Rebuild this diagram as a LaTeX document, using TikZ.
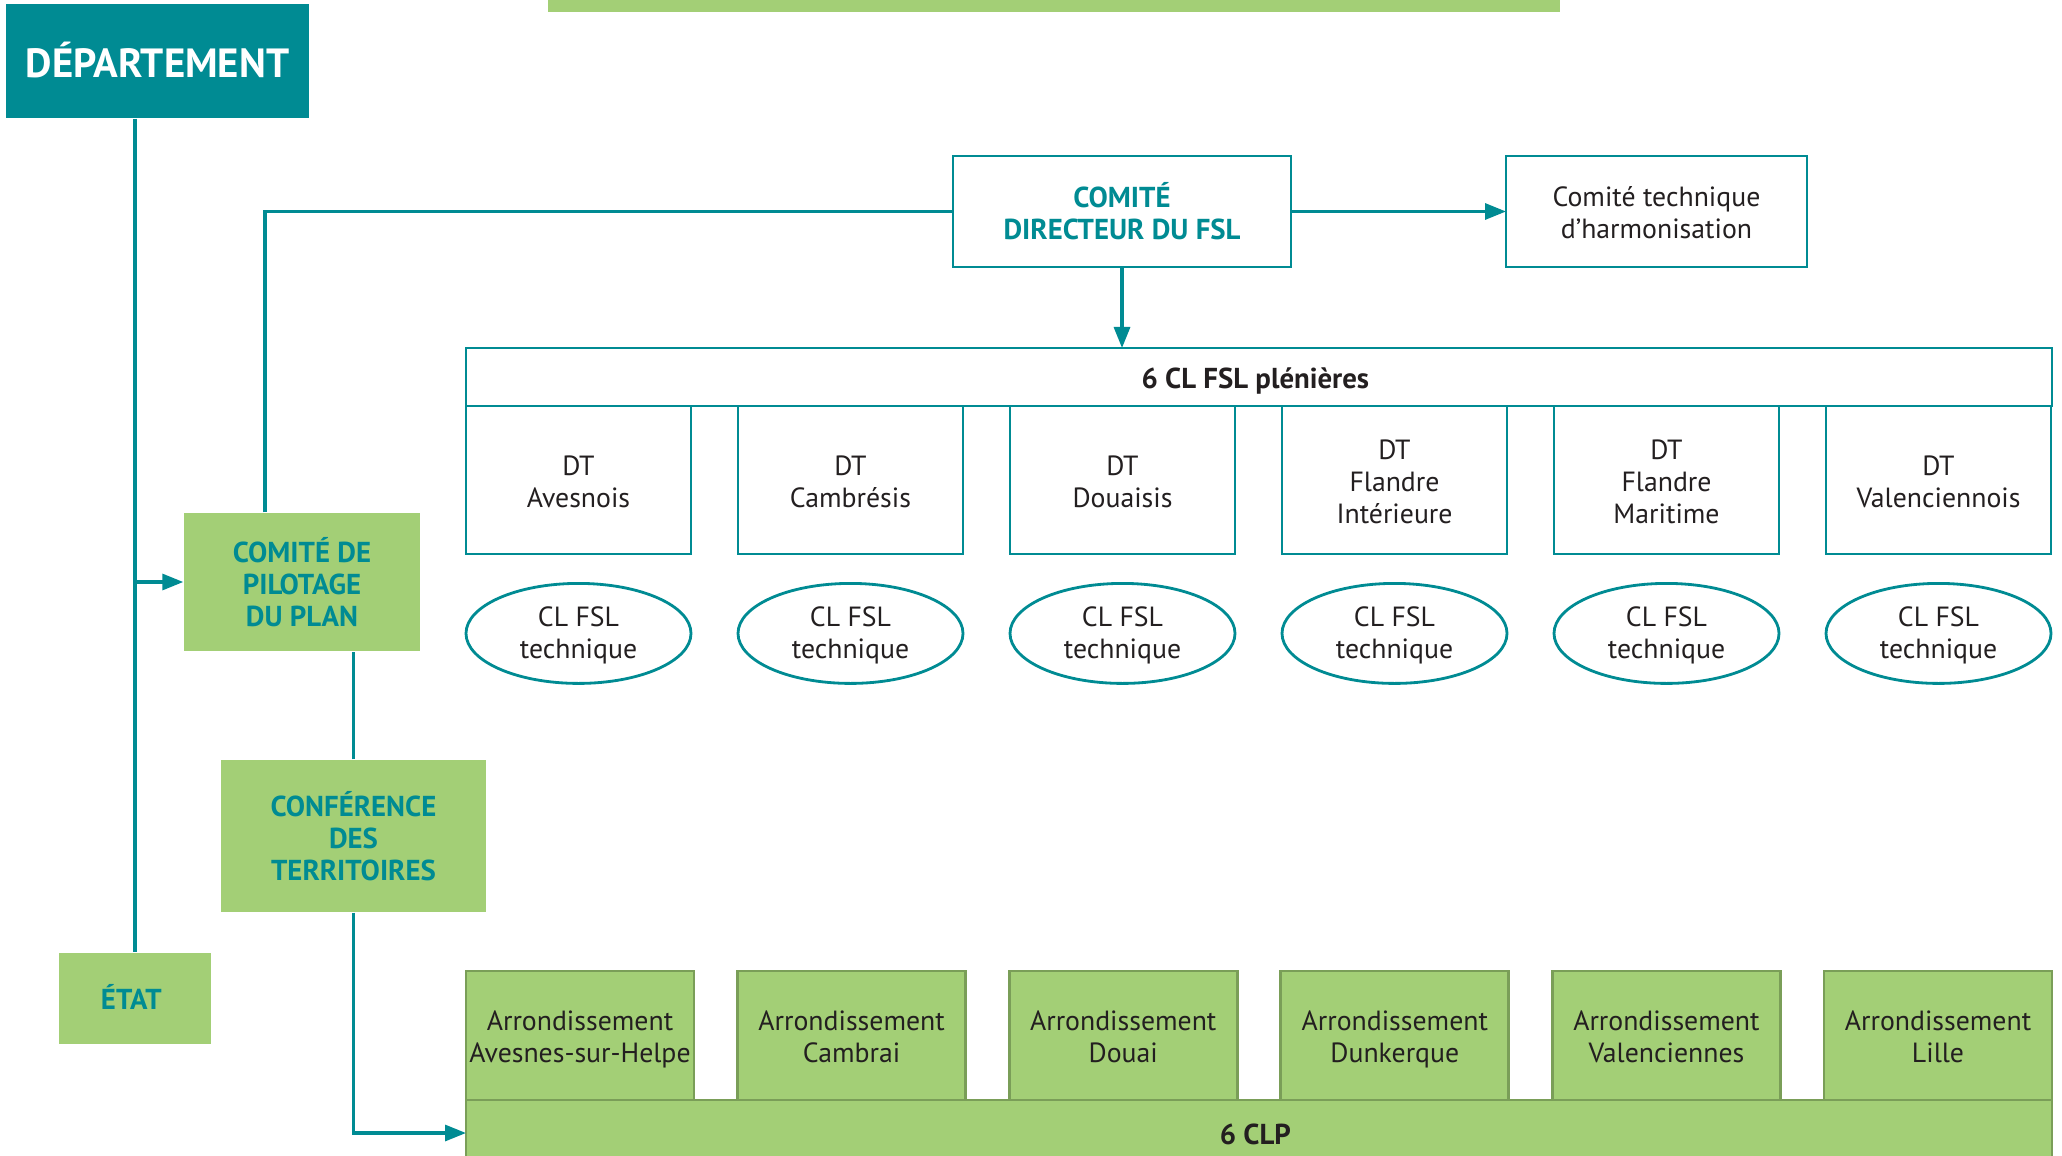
\documentclass[tikz,border=0pt]{standalone}
\usepackage{fontspec}
\setmainfont{PT Sans}
\usetikzlibrary{positioning, shapes.geometric, arrows.meta}

\definecolor{fslteal}{HTML}{008B93}
\definecolor{fslgreen}{HTML}{A3CF76}
\definecolor{fsldarkgreen}{HTML}{7A9E58}
\definecolor{fsltext}{HTML}{231F20}

\begin{document}
\begin{tikzpicture}[font=\fontsize{7.9}{9.1}\selectfont, node distance = 0.47cm,
	oneline/.style = { text height=8.4pt, text depth=2pt },
	twoline/.style = { text height=17.4pt, text depth=2pt },
	threeline/.style = { text height=26.5pt, text depth=2pt },
	block/.style = { rectangle, draw=fslteal, line width=0.8pt, fill=white,
	text=fsltext, align=center, inner sep=0pt, outer sep=0pt },
	bold/.style = { font=\fontsize{8.2}{9.1}\selectfont\bfseries },
	greenbox/.style = { rectangle, fill=fslgreen, text=fslteal, align=center,
	bold, inner sep=0pt },
	oval/.style = { ellipse, draw=fslteal, line width=0.8pt, text=fsltext,
	align=center, inner sep=0pt, minimum width=2.25cm, minimum height=1cm,
	text height=16.3pt, text depth=2pt },
	arrbox/.style = { rectangle, draw=fsldarkgreen, line width=0.8pt,
	fill=fslgreen, text=fsltext, align=center, inner sep=0pt, outer sep=0pt },
	linkline/.style = { draw=fslteal, line width=0.9pt },
	linkarrow/.style = { linkline, -{Triangle[length=0.21cm, width=0.16cm]} } ]

  \useasboundingbox (0,0) rectangle (20.62,-11.55);
  \fill [fslgreen] (5.48,0) rectangle (15.60,-0.12);

  \node [name=dept, rectangle, fill=fslteal, text=white,
	font=\fontsize{11.6}{13}\selectfont\bfseries, text height=12.2pt, text depth=2.9pt,
	minimum width=3.03cm, minimum height=1.14cm] at (1.575,-0.61) { DÉPARTEMENT };
  \node [name=direct, block, text=fslteal, bold, text height=18.2pt, text depth=2pt,
	minimum width=3.38cm, minimum height=1.11cm] at (11.22,-2.115)
	{ COMITÉ\\ DIRECTEUR DU FSL };
  \node [name=harmo, block, twoline, minimum width=3.01cm, minimum height=1.11cm,
	right=2.15cm of direct] { Comité technique\\ d’harmonisation };
  \node [name=plen, block, bold, oneline,
	minimum width=15.86cm, minimum height=0.58cm] at (12.59,-3.77)
	{ 6 CL FSL plénières };

  % DT boxes under the plenary bar
  \node [name=dtavesnois, block, twoline, minimum width=2.25cm, minimum height=1.48cm,
	anchor=north west] at (plen.south west) { DT\\ Avesnois };
  \node [name=dtcambresis, block, twoline, minimum width=2.25cm, minimum height=1.48cm,
	right=of dtavesnois] { DT\\ Cambrésis };
  \node [name=dtdouaisis, block, twoline, minimum width=2.25cm, minimum height=1.48cm,
	right=of dtcambresis] { DT\\ Douaisis };
  \node [name=dtflandreint, block, threeline, minimum width=2.25cm, minimum height=1.48cm,
	right=of dtdouaisis] { DT\\ Flandre\\ Intérieure };
  \node [name=dtflandremar, block, threeline, minimum width=2.25cm, minimum height=1.48cm,
	right=of dtflandreint] { DT\\ Flandre\\ Maritime };
  \node [name=dtvalenc, block, twoline, minimum width=2.25cm, minimum height=1.48cm,
	right=of dtflandremar] { DT\\ Valenciennois };

  \node [name=techavesnois, oval, below=0.28cm of dtavesnois] { CL FSL\\ technique };
  \node [name=techcambresis, oval, below=0.28cm of dtcambresis] { CL FSL\\ technique };
  \node [name=techdouaisis, oval, below=0.28cm of dtdouaisis] { CL FSL\\ technique };
  \node [name=techflandreint, oval, below=0.28cm of dtflandreint] { CL FSL\\ technique };
  \node [name=techflandremar, oval, below=0.28cm of dtflandremar] { CL FSL\\ technique };
  \node [name=techvalenc, oval, below=0.28cm of dtvalenc] { CL FSL\\ technique };

  \node [name=pilot, greenbox, text height=27.3pt, text depth=2pt,
	minimum width=2.36cm, minimum height=1.38cm]
	at (3.02,-5.82) { COMITÉ DE\\ PILOTAGE\\ DU PLAN };
  \node [name=conf, greenbox, text height=27.3pt, text depth=2pt,
	minimum width=2.65cm, minimum height=1.52cm]
	at (3.535,-8.36) { CONFÉRENCE\\ DES\\ TERRITOIRES };
  \node [name=etat, greenbox, oneline, minimum width=1.52cm, minimum height=0.91cm]
	at (1.35,-9.985) { ÉTAT };

  % arrondissements on top of the CLP bar
  \node [name=clp, arrbox, bold, oneline,
	minimum width=15.86cm, minimum height=0.66cm, anchor=north west]
	at (4.66,-11.00) { 6 CLP };
  \node [name=arravesnes, arrbox, twoline, minimum width=2.28cm, minimum height=1.29cm,
	anchor=south west] at (clp.north west) { Arrondissement\\ Avesnes-sur-Helpe };
  \node [name=arrcambrai, arrbox, twoline, minimum width=2.28cm, minimum height=1.29cm,
	right=0.436cm of arravesnes] { Arrondissement\\ Cambrai };
  \node [name=arrdouai, arrbox, twoline, minimum width=2.28cm, minimum height=1.29cm,
	right=0.436cm of arrcambrai] { Arrondissement\\ Douai };
  \node [name=arrdunkerque, arrbox, twoline, minimum width=2.28cm, minimum height=1.29cm,
	right=0.436cm of arrdouai] { Arrondissement\\ Dunkerque };
  \node [name=arrvalenc, arrbox, twoline, minimum width=2.28cm, minimum height=1.29cm,
	right=0.436cm of arrdunkerque] { Arrondissement\\ Valenciennes };
  \node [name=arrlille, arrbox, twoline, minimum width=2.28cm, minimum height=1.29cm,
	right=0.436cm of arrvalenc] { Arrondissement\\ Lille };

  % connectors
  \draw [linkline] (dept.south -| etat.north) -- (etat.north);
  \draw [linkarrow] (pilot.west -| etat.north) -- (pilot.west);
  \draw [linkline] ([xshift=-0.37cm]pilot.north) |- (direct.west);
  \draw [linkarrow] (direct.east) -- (harmo.west);
  \draw [linkarrow] (direct.south) -- (direct.south |- plen.north);
  \draw [linkline] (conf.north) -- (conf.north |- pilot.south);
  \draw [linkarrow] (conf.south) |- (clp.west);
\end{tikzpicture}
\end{document}
